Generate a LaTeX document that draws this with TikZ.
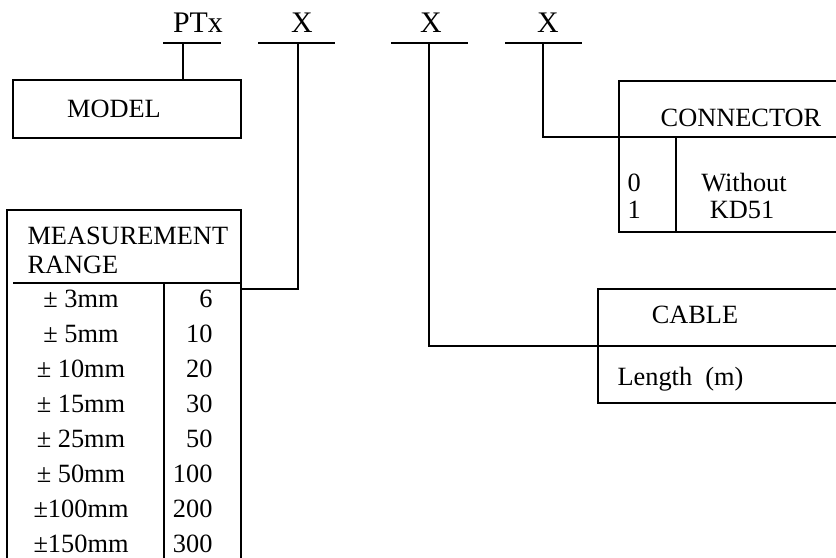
\documentclass[tikz,border=0pt]{standalone}
\usepackage{fontspec}
\setmainfont{Liberation Serif}
\usetikzlibrary{positioning}

\tikzset{
  lbl/.style={inner sep=0pt, anchor=base, font=\fontsize{15}{18}\selectfont},
  code/.style={lbl, font=\fontsize{17}{20}\selectfont},
}

\begin{document}
\begin{tikzpicture}[x=0.02cm, y=-0.02cm, line width=0.6pt]
  \useasboundingbox (0,0) rectangle (836,558);
  % order code
  \node[code] (ptx) at (198,32) {PTx};
  \node[code] (xrange) at (302,32) {X};
  \node[code] (xcable) at (431,32) {X};
  \node[code] (xconn) at (548,32) {X};
  \draw (163,43) -- (221,43);
  \draw (258,43) -- (335,43);
  \draw (391,43) -- (468,43);
  \draw (505,43) -- (582,43);
  \coordinate (j1) at (183,43);
  \coordinate (j2) at (298,43);
  \coordinate (j3) at (429,43);
  \coordinate (j4) at (543,43);
  \coordinate (t1) at (183,80);
  \coordinate (t2) at (241,289);
  \coordinate (t3) at (598,346);
  \coordinate (t4) at (619,137);
  \draw (j1) -- (t1);
  \draw (j2) |- (t2);
  \draw (j3) |- (t3);
  \draw (j4) |- (t4);
  % model
  \draw (13,80) rectangle (241,138);
  \node[lbl] (model) at (114,117) {MODEL};
  % measurement range
  \draw (7,570) -- (7,210) -- (241,210) -- (241,570);
  \draw (13,283) -- (241,283);
  \draw (164,283) -- (164,570);
  \node[lbl, anchor=base west] (meas) at (27,244) {MEASUREMENT};
  \node[lbl, anchor=base west] (range) at (27,273) {RANGE};
  \foreach \r/\v [count=\i from 0] in {± 3mm/6, ± 5mm/10, ± 10mm/20, ± 15mm/30,
      ± 25mm/50, ± 50mm/100, ±100mm/200, ±150mm/300} {
    \node[lbl] (r\i) at (81,307+35*\i) {\r};
    \node[lbl, anchor=base east] (v\i) at (213,307+35*\i) {\v};
  }
  % connector
  \draw (836,81) -- (619,81) -- (619,232) -- (836,232);
  \draw (619,137) -- (836,137);
  \draw (676,137) -- (676,232);
  \node[lbl] (connector) at (741,126) {CONNECTOR};
  \node[lbl, anchor=base west] (c0) at (627,191) {0};
  \node[lbl, anchor=base west] (c1) at (627,218) {1};
  \node[lbl] (without) at (744,191) {Without};
  \node[lbl] (kd) at (742,218) {KD51};
  % cable
  \draw (836,289) -- (598,289) -- (598,403) -- (836,403);
  \draw (598,346) -- (836,346);
  \node[lbl] (cable) at (695,323) {CABLE};
  \node[lbl, anchor=base west] (length) at (617,385) {Length~~(m)};
\end{tikzpicture}
\end{document}
